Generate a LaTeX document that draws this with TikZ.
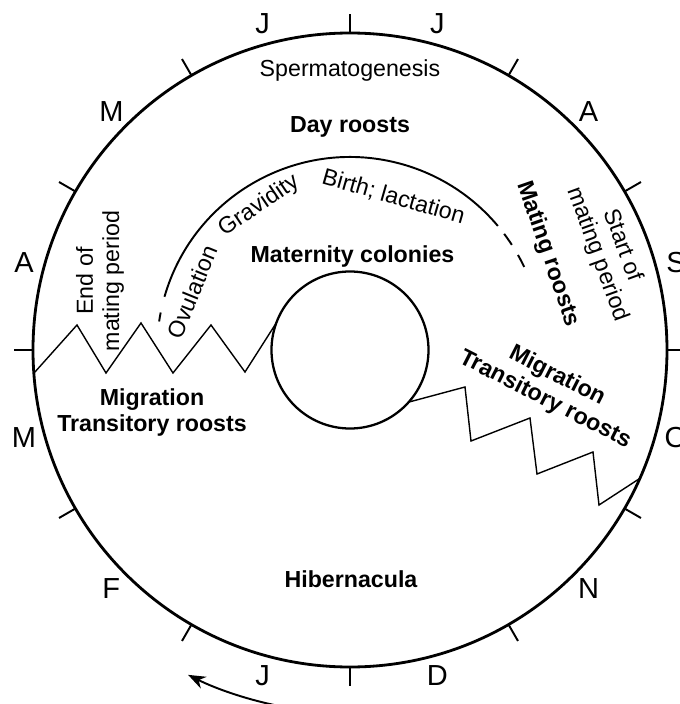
\documentclass[tikz,border=0pt]{standalone}
\usepackage{fontspec}
\setmainfont{Liberation Sans}
\usetikzlibrary{arrows.meta}

\begin{document}
\begin{tikzpicture}[
    month/.style={font=\fontsize{16.5}{19}\selectfont, inner sep=0pt},
    phase/.style={font=\fontsize{13.2}{15}\selectfont, inner sep=0pt, align=center},
    roost/.style={font=\fontsize{13.2}{15}\selectfont\bfseries, inner sep=0pt, align=center},
]

% Parameters
\def\R{6.34}        % radius of the year circle
\def\r{1.57}        % radius of the inner circle
\def\rarc{3.86}     % radius of the breeding arc
\def\tick{0.38}     % length of the month ticks

\useasboundingbox (-7.0,-7.08) rectangle (6.6,7.0);

% Year circle with month ticks
\draw[line width=1.6pt] (0,0) circle (\R);
\foreach \a in {0,30,...,330} {
    \draw[line width=1.1pt] (\a:\R) -- (\a:{\R+\tick});
}

% Month letters (clockwise from July)
\foreach \a/\m [count=\i] in {75/J,45/A,15/S,-15/O,-45/N,-75/D,-105/J,-135/F,-165/M,165/A,135/M,105/J} {
    \node[month] (month\i) at (\a:6.75) {\m};
}

% Inner circle
\draw[line width=1.3pt] (0,0) circle (\r);

% Breeding arc, solid with dashed ends
\draw[line width=1.1pt] (164:\rarc) arc (164:40:\rarc);
\foreach \a/\b in {37/33, 29.5/25.5, 171.5/168.8} {
    \draw[line width=1.1pt] (\a:\rarc) arc (\a:\b:\rarc);
}

% Spring migration (zigzag, left)
\draw[line width=0.8pt] (184.2:\R) -- (-5.46,0.5) -- (-4.88,-0.46) -- (-4.18,0.54)
    -- (-3.54,-0.46) -- (-2.78,0.5) -- (-2.10,-0.44) -- (159.7:\r);

% Autumn migration (zigzag, right)
\draw[line width=0.8pt] (-41.6:\r) -- (2.30,-0.74) -- (2.42,-1.82) -- (3.60,-1.36)
    -- (3.74,-2.48) -- (4.86,-2.04) -- (4.98,-3.10) -- (-23.9:\R);

% Labels
\node[phase, anchor=base] (sperm) at (0,5.46) {Spermatogenesis};
\node[roost, anchor=base] (day) at (0,4.36) {Day roosts};
\node[roost, anchor=base] (maternity) at (0.05,1.74) {Maternity colonies};
\node[roost] (migleft) at (-3.96,-1.25) {Migration\\Transitory roosts};
\node[roost, anchor=base] (hiber) at (0.02,-4.74) {Hibernacula};
\node[roost, rotate=-27] (migright) at (4.02,-0.76) {Migration\\Transitory roosts};
\node[roost, rotate=-71] (mating) at (3.96,1.92) {Mating roosts};
\node[phase, rotate=-70] (startmating) at (5.2,2.0) {Start of\\mating period};
\node[phase, rotate=90] (endmating) at (-5.0,1.38) {End of\\mating period};

% Phases along the arc
\node[phase, rotate=68] (ovulation) at (-3.15,1.16) {Ovulation};
\node[phase, rotate=34] (gravidity) at (-1.82,2.88) {Gravidity};
\node[phase, rotate=-16] (birth) at (0.87,3.06) {Birth; lactation};

% Direction of time
\draw[line width=1.1pt, -{Stealth[length=3.5mm,width=2.6mm]}] (-102:7.26) arc (-102:-116.5:7.26);

\end{tikzpicture}
\end{document}
